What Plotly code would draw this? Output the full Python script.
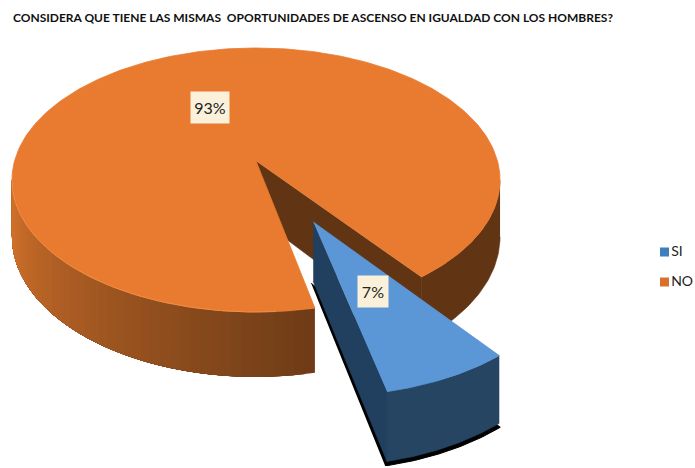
import numpy as np
import plotly.graph_objects as go

categories = ["SI", "NO"]
shares = [7, 93]
title_text = "CONSIDERA QUE TIENE LAS MISMAS  OPORTUNIDADES DE ASCENSO EN IGUALDAD CON LOS HOMBRES?"

TOP_COL = {"SI": "#5b97d6", "NO": "#e97b30"}
LEG_COL = {"SI": "#3f7fbf", "NO": "#d9702c"}
LEG_POS = {"SI": (664.5, 252), "NO": (664.5, 282)}

# projection of the pie plane onto the page
CX, CY0, AX, AY, K, DEPTH = 256.0, 161.0, 241.5, 106.1, -0.1439, 55.6
START = 52.7          # degrees where SI begins
EXPLODE = (0.222, 0.442)


def project(px, py):
    d = 1 + K * py
    return CX + AX * px / d, (CY0 + AY * py) / d, DEPTH / d


def arc(a0, a1, off=(0.0, 0.0), n=120):
    t = np.radians(np.linspace(a0, a1, n))
    return project(np.cos(t) + off[0], np.sin(t) + off[1])


def mix(c0, c1, f):
    a = [int(c0[i:i + 2], 16) for i in (1, 3, 5)]
    b = [int(c1[i:i + 2], 16) for i in (1, 3, 5)]
    return "#%02x%02x%02x" % tuple(round(u + (v - u) * f) for u, v in zip(a, b))


fig = go.Figure()


def poly(x, y, color, lw=0.6):
    fig.add_trace(go.Scatter(x=list(x), y=list(y), mode="lines", fill="toself", fillcolor=color,
                             line=dict(color=color, width=lw), hoverinfo="skip", showlegend=False))


si_a0 = START
si_a1 = START + shares[0] * 3.6
no_a0 = si_a1
no_a1 = si_a1 + shares[1] * 3.6

# NO: far cut wall
ax0, ay0, ad0 = project(0, 0)
ex, ey, ed = arc(no_a1, no_a1, n=1)
poly([ax0, ex[0], ex[0], ax0], [ay0, ey[0], ey[0] + ed[0], ay0 + ad0], "#613413")

# NO: right outer wall
rx, ry, rd = arc(368.3, no_a1, n=50)
poly(np.r_[rx, rx[::-1]], np.r_[ry, (ry + rd)[::-1]], "#613413")

# NO: front-left outer wall, shaded by painting ever narrower bands
edges = np.linspace(no_a0, 172, 45)
for i in range(len(edges) - 1):
    sx, sy, sd = arc(172, edges[i], n=80)
    f = (edges[i] - no_a0) / (172 - no_a0)
    col = mix("#6f3c17", "#d8752c", f ** 1.05)
    poly(np.r_[sx, sx[::-1]], np.r_[sy, (sy + sd)[::-1]], col, lw=0)

# NO: top face
tx, ty, _ = arc(no_a0, no_a1, n=400)
poly(np.r_[ax0, tx], np.r_[ay0, ty], TOP_COL["NO"], lw=0.8)
hx, hy, _ = arc(no_a0 + 8, 172, n=100)
fig.add_trace(go.Scatter(x=hx, y=hy, mode="lines", line=dict(color="#f08d47", width=1),
                         hoverinfo="skip", showlegend=False))

# SI: shadow, walls and top
ax1, ay1, ad1 = project(*EXPLODE)
ox, oy, od = arc(si_a0, si_a1, EXPLODE, n=60)
poly(np.r_[ax1 - 2, ox + 1, ox[-1] - 2], np.r_[ay1 + ad1 + 2, (oy + od) + 4, oy[-1] + od[-1] + 4], "#000000", lw=1)
poly([ax1, ox[-1], ox[-1], ax1], [ay1, oy[-1], oy[-1] + od[-1], ay1 + ad1], "#213f5e")
poly(np.r_[ox, ox[::-1]], np.r_[oy, (oy + od)[::-1]], "#254563")
poly(np.r_[ax1, ox], np.r_[ay1, oy], TOP_COL["SI"], lw=0.8)

# key, drawn as labelled markers
for name in categories:
    fig.add_trace(go.Scatter(x=[LEG_POS[name][0]], y=[LEG_POS[name][1]], mode="markers+text",
                             text=[name], textposition="middle right",
                             textfont=dict(family="Lato", size=14, color="#222222"),
                             marker=dict(symbol="square", size=9, color=LEG_COL[name]),
                             name=name, showlegend=False, hoverinfo="skip", cliponaxis=False))

# value labels at mid-angle of each slice
LABEL_R = 0.485
for name, val, a0, a1, off in [("SI", shares[0], si_a0, si_a1, EXPLODE), ("NO", shares[1], no_a0, no_a1, (0, 0))]:
    m = np.radians((a0 + a1) / 2)
    lx, ly, _ = project(LABEL_R * np.cos(m) + off[0], LABEL_R * np.sin(m) + off[1])
    txt = f"{val}%"
    fig.add_annotation(x=lx, y=ly, text=txt, showarrow=False, bgcolor="#fbf1da",
                       width=8 * len(txt) + 14, height=31, borderpad=0,
                       font=dict(family="Lato", size=16, color="#222222"))

fig.update_layout(
    width=695, height=468, margin=dict(l=0, r=0, t=0, b=0, autoexpand=False),
    paper_bgcolor="white", plot_bgcolor="white", showlegend=False,
    title=dict(text=title_text, x=13 / 695, xanchor="left", y=1 - 18 / 468, yanchor="middle",
               font=dict(family="Lato", size=12, color="#111111", weight="bold")),
    xaxis=dict(range=[0, 695], visible=False, fixedrange=True),
    yaxis=dict(range=[468, 0], visible=False, fixedrange=True),
)
fig.write_html("out.html", config={"displayModeBar": False},
               post_script="document.body.style.margin='0';")
